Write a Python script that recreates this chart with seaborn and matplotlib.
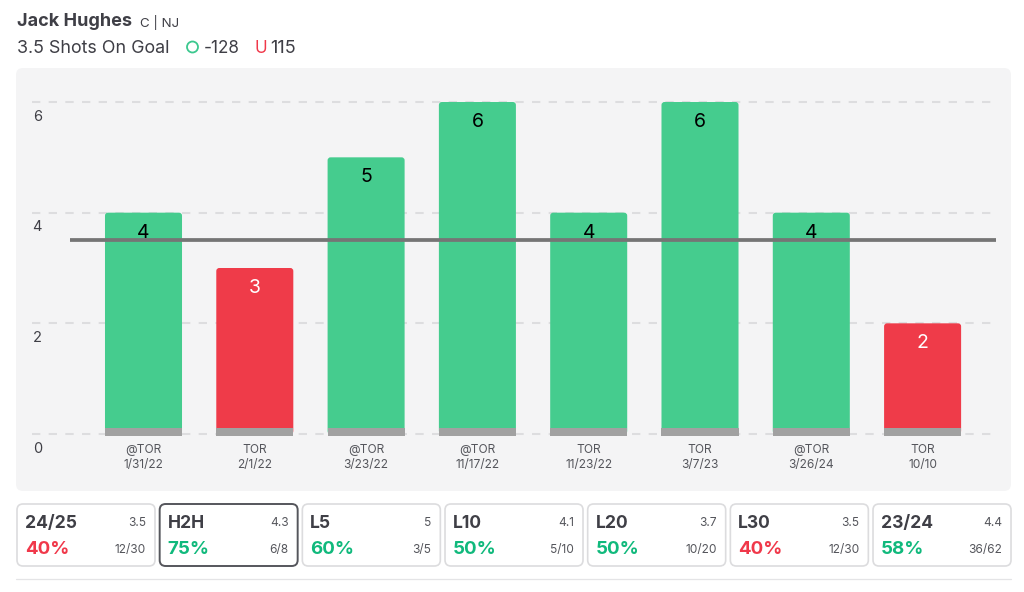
import matplotlib
matplotlib.use("Agg")
import matplotlib.pyplot as plt
from matplotlib.patches import FancyBboxPatch, Circle
from matplotlib.transforms import ScaledTranslation
import pandas as pd
import seaborn as sns

opponents = ["@TOR", "TOR", "@TOR", "@TOR", "TOR", "TOR", "@TOR", "TOR"]
dates = ["1/31/22", "2/1/22", "3/23/22", "11/17/22", "11/23/22", "3/7/23", "3/26/24", "10/10"]
shots = [4, 3, 5, 6, 4, 6, 4, 2]
prop_line = 3.5
y_ticks = [0, 2, 4, 6]

card_names = ["24/25", "H2H", "L5", "L10", "L20", "L30", "23/24"]
card_avgs = ["3.5", "4.3", "5", "4.1", "3.7", "3.5", "4.4"]
card_pcts = ["40%", "75%", "60%", "50%", "50%", "40%", "58%"]
card_counts = ["12/30", "6/8", "3/5", "5/10", "10/20", "12/30", "36/62"]
card_hit = [False, True, True, True, True, False, True]

GREEN = "#45CC8E"
RED = "#EF3B49"
GREEN_TXT = "#10B97C"
RED_TXT = "#F0384A"
DARK = "#3F3F46"
FONT = "Inter"

sns.set_theme(style="white")
plt.rcParams["font.family"] = [FONT, "DejaVu Sans"]

fig = plt.figure(figsize=(10.24, 5.92), dpi=100, facecolor="white")

# background layer in pixel coordinates, for panel, cards and header
bg = fig.add_axes([0, 0, 1, 1], zorder=0)
bg.set_xlim(0, 1024)
bg.set_ylim(592, 0)
bg.axis("off")

bg.add_patch(FancyBboxPatch((16, 68), 995, 423, boxstyle="round,pad=0,rounding_size=7",
                            fc="#F4F4F5", ec="none"))

bg.text(17, 22, "Jack Hughes", fontsize=13, fontweight="bold", color=DARK, va="center")
bg.text(140, 22, "C | NJ", fontsize=9.6, color=DARK, va="center")
bg.text(17, 48.5, "3.5 Shots On Goal", fontsize=12.9, color=DARK, va="center")
bg.add_patch(Circle((192.5, 47), 5.5, fc="none", ec="#3CC88F", lw=1.3))
bg.text(204, 48.5, "-128", fontsize=12.3, color=DARK, va="center")
bg.text(254, 48.5, "U", fontsize=12.3, color=RED_TXT, va="center")
bg.text(270, 48.5, "115", fontsize=13, color=DARK, va="center")

card_w = 138
for i, name in enumerate(card_names):
    left = 17 + i * 142.67
    selected = name == "H2H"
    bg.add_patch(FancyBboxPatch((left, 504), card_w, 62, boxstyle="round,pad=0,rounding_size=6",
                                fc="white", ec="#55565C" if selected else "#DCDCDE",
                                lw=1.4 if selected else 1.2))
    bg.text(left + 8, 523.5, name, fontsize=12.6, fontweight="bold", color=DARK, va="center")
    bg.text(left + card_w - 9, 523.5, card_avgs[i], fontsize=8.6, color="#55565C", va="center", ha="right")
    bg.text(left + 8, 549.5, card_pcts[i], fontsize=13.5, fontweight="bold",
            color=GREEN_TXT if card_hit[i] else RED_TXT, va="center")
    bg.text(left + card_w - 9, 550, card_counts[i], fontsize=8.6, color="#55565C", va="center", ha="right")

bg.plot([16, 1011], [578.5, 578.5], color="#E4E4E6", lw=0.9)

# main chart, axes spans the gridlines (x 32-998, y 102-434 px)
ax = fig.add_axes([32 / 1024, 1 - 434 / 592, 966 / 1024, 332 / 592], zorder=1)
ax.patch.set_alpha(0)

df = pd.DataFrame({
    "game": [f"{o}\n{d}" for o, d in zip(opponents, dates)],
    "shots": shots,
    "result": ["over" if s > prop_line else "under" for s in shots],
})
sns.barplot(data=df, x="game", y="shots", hue="result", palette={"over": GREEN, "under": RED},
            dodge=False, legend=False, width=0.692, saturation=1, ax=ax, zorder=3)

spacing = 111.3
px_y = 332 / 6
ax.set_xlim((32 - 143.5) / spacing, (998 - 143.5) / spacing)
ax.set_ylim(0, 6)

# swap the square bars for ones with rounded corners
for bar in list(ax.patches):
    x0, y0, w, h = bar.get_x(), bar.get_y(), bar.get_width(), bar.get_height()
    color = bar.get_facecolor()
    bar.remove()
    if h == 0 or (isinstance(h, float) and pd.isna(h)):
        continue
    ax.add_patch(FancyBboxPatch((x0, y0), w, h, boxstyle=f"round,pad=0,rounding_size={3 / spacing}",
                                mutation_aspect=spacing / px_y, fc=color, ec="none", lw=0, zorder=3))

# grey foot of each bar
ax.bar(range(len(shots)), 0.14, bottom=-0.035, width=0.692, color="#A1A1A1", edgecolor="none",
       linewidth=0, zorder=4, clip_on=False)

for y in y_ticks:
    ax.axhline(y, color="#DDDDDF", lw=1.5, dashes=(4, 4), zorder=1, clip_on=False)

ax.plot([(70 - 143.5) / spacing, (996 - 143.5) / spacing], [prop_line, prop_line],
        color="#757575", lw=2.7, zorder=5, solid_capstyle="butt")

for i, s in enumerate(shots):
    ax.annotate(str(s), (i, s), xytext=(0, -14.5), textcoords="offset points",
                ha="center", va="center", fontsize=14, zorder=6,
                color="black" if s > prop_line else "white")

ax.set_xlabel("")
ax.set_ylabel("")
ax.set_yticks(y_ticks)
ax.set_yticklabels([str(y) for y in y_ticks])
ax.tick_params(axis="y", length=0, pad=0, labelsize=10.5, labelcolor=DARK)
ax.tick_params(axis="x", length=0, pad=7, labelsize=8.6, labelcolor="#55565C")
for lab in ax.get_xticklabels():
    lab.set_linespacing(1.4)
offset = ScaledTranslation(10 / 100, -13.3 / 100, fig.dpi_scale_trans)
for lab in ax.get_yticklabels():
    lab.set_transform(lab.get_transform() + offset)
sns.despine(ax=ax, left=True, bottom=True)

fig.savefig("out.png", dpi=100)
